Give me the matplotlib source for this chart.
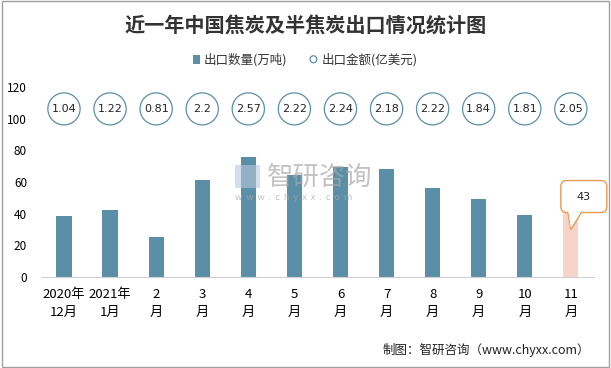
import numpy as np
import matplotlib
matplotlib.use("Agg")
import matplotlib.pyplot as plt
from matplotlib.patches import Ellipse, Rectangle, FancyBboxPatch, Polygon
from matplotlib.transforms import IdentityTransform

plt.rcParams['font.family'] = ['Noto Sans CJK SC', 'DejaVu Sans']

months = ["2020年\n12月", "2021年\n1月", "2\n月", "3\n月", "4\n月", "5\n月",
          "6\n月", "7\n月", "8\n月", "9\n月", "10\n月", "11\n月"]
volume = [38.5, 42.3, 25.3, 61.3, 75.8, 64.4, 69.5, 68.2, 56.2, 49.3, 39.2, 43]
amount = [1.04, 1.22, 0.81, 2.2, 2.57, 2.22, 2.24, 2.18, 2.22, 1.84, 1.81, 2.05]

BAR = "#5B8FA7"
HILITE = "#F8D3C8"
ORANGE = "#E59A50"

fig = plt.figure(figsize=(6.11, 3.68), dpi=100)
fig.patches.append(Rectangle((0.003, 0.004), 0.994, 0.992, transform=fig.transFigure,
                             fill=False, ec="#A0A0A0", lw=1))
ax = fig.add_axes([0.067, 0.247, 0.905, 0.517])

x = np.arange(len(months))
colors = [BAR] * (len(months) - 1) + [HILITE]
ax.bar(x, volume, width=0.33, color=colors, zorder=2)

ax.set_xlim(-0.5, len(months) - 0.5)
ax.set_ylim(0, 120)

# amount circles
for xi, v in zip(x, amount):
    ax.add_patch(Ellipse((xi, 106.1), 0.70, 20.2, fill=False, ec=BAR, lw=0.9, zorder=3))
    ax.text(xi, 106.1, f"{v:g}", ha="center", va="center", fontsize=8,
            family=["DejaVu Sans"], color="#222222", zorder=4)

# callout for the last bar (drawn in pixel space)
tx, ty = ax.transData.transform((x[-1], 30))
bl, br, bb, bt = tx - 10, tx + 36, ty + 17, ty + 49
box = FancyBboxPatch((bl, bb), br - bl, bt - bb, boxstyle="round,pad=0,rounding_size=6",
                     transform=IdentityTransform(), fc="white", ec=ORANGE, lw=1, zorder=6,
                     clip_on=False)
ax.add_patch(box)
ptr = Polygon([(tx - 3, bb + 0.8), (tx, ty), (tx + 11, bb + 0.8)], closed=False,
              transform=IdentityTransform(), fc="white", ec=ORANGE, lw=1, zorder=7,
              clip_on=False)
ax.add_patch(ptr)
ax.add_patch(Polygon([(tx - 2.5, bb + 1.2), (tx, ty + 2), (tx + 10.3, bb + 1.2)],
                     transform=IdentityTransform(), fc="white", ec="none", zorder=8,
                     clip_on=False))
ax.text((bl + br) / 2, (bb + bt) / 2, f"{volume[-1]:g}", transform=IdentityTransform(),
        ha="center", va="center", fontsize=8, family=["DejaVu Sans"], color="#222222", zorder=9)

ax.set_yticks(np.arange(0, 121, 20))
ax.set_xticks(x)
ax.set_xticklabels(months, fontsize=9.5, linespacing=1.5)
ax.tick_params(axis="y", length=0, labelsize=8.5, pad=10)
ax.tick_params(axis="x", length=0, pad=8)
for s in ["top", "right", "left"]:
    ax.spines[s].set_visible(False)
ax.spines["bottom"].set_color("#D0D0D0")

# title and legend
fig.text(0.5, 0.93, "近一年中国焦炭及半焦炭出口情况统计图", ha="center", va="center",
         fontsize=14.5, fontweight="bold", color="#333333")
fig.patches.append(Rectangle((0.316, 0.827), 0.011, 0.024, transform=fig.transFigure,
                             fc=BAR, ec="none"))
fig.text(0.333, 0.838, "出口数量(万吨)", ha="left", va="center", fontsize=9, color="#333333")
fig.patches.append(Ellipse((0.513, 0.839), 0.011, 0.019, transform=fig.transFigure,
                           fill=False, ec=BAR, lw=0.9))
fig.text(0.527, 0.838, "出口金额(亿美元)", ha="left", va="center", fontsize=9, color="#333333")

# watermark
fig.text(0.437, 0.519, "智研咨询", ha="left", va="center", fontsize=19, color="#A8A8A8", alpha=0.7)
fig.text(0.385, 0.463, "w  w  w  .  c  h  y  x  x  .  c  o  m", ha="left", va="center",
         fontsize=6.5, color="#A8A8A8", alpha=0.7)
fig.patches.append(Rectangle((0.385, 0.49), 0.04, 0.062, transform=fig.transFigure,
                             fc="#B8C8DC", ec="none", alpha=0.6))

# footer
fig.text(0.965, 0.05, "制图：智研咨询（www.chyxx.com）", ha="right", va="center",
         fontsize=9, color="#222222")

fig.savefig("out.png", dpi=100)
